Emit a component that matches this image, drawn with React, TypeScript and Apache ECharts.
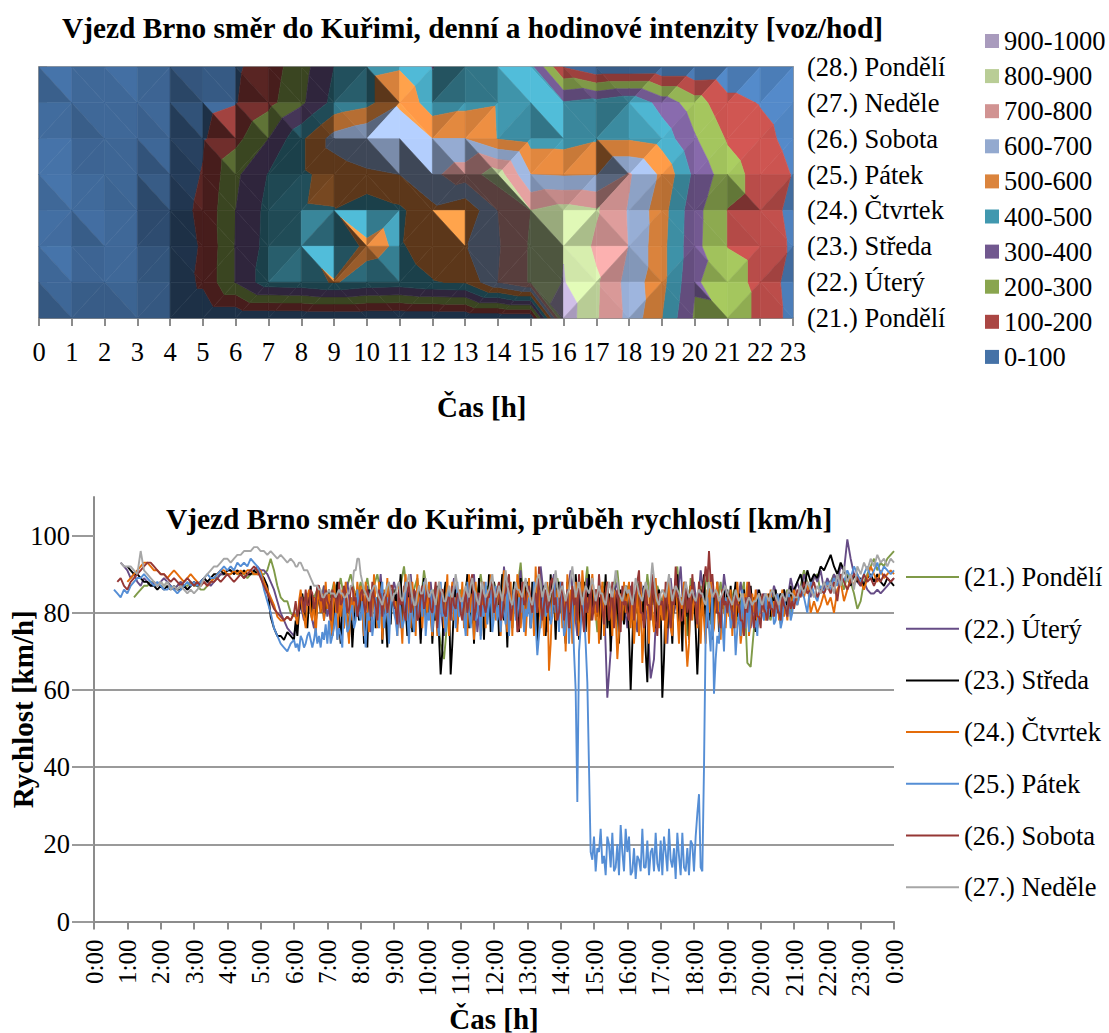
import React, { useEffect, useRef } from "react";
import * as echarts from "echarts";

const FONT = "Liberation Serif";
const hours = Array.from({ length: 24 }, (_, i) => i);
const dayLabels = ["(28.) Pondělí", "(27.) Neděle", "(26.) Sobota", "(25.) Pátek", "(24.) Čtvrtek", "(23.) Středa", "(22.) Úterý", "(21.) Pondělí"];
const bandNames = ["0-100", "100-200", "200-300", "300-400", "400-500", "500-600", "600-700", "700-800", "800-900", "900-1000"];
const bandColors = ["#4572A7", "#AA4643", "#89A54E", "#71588F", "#4198AF", "#DB843D", "#93A9CF", "#D19392", "#B9CD96", "#A99BBD"];

const row28 = [45, 25, 25, 20, 30, 60, 85, 150, 260, 400, 470, 490, 395, 470, 490, 430, 95, 5, 5, 8, 10, 20, 20, 20];
const row27 = [30, 25, 25, 25, 30, 70, 95, 170, 280, 430, 470, 590, 440, 470, 490, 480, 410, 440, 490, 360, 247, 130, 95, 55];
const row26 = [30, 18, 25, 25, 35, 90, 170, 300, 480, 640, 695, 640, 600, 600, 495, 460, 460, 490, 490, 460, 310, 190, 130, 70];
const row25 = [35, 20, 22, 22, 45, 105, 280, 405, 480, 540, 580, 600, 680, 750, 850, 600, 590, 595, 710, 580, 375, 245, 160, 95];
const row24 = [30, 25, 18, 20, 55, 120, 300, 430, 490, 495, 430, 480, 575, 520, 700, 800, 840, 810, 690, 540, 335, 197, 160, 70];
const row23 = [35, 15, 20, 20, 40, 110, 305, 435, 490, 430, 520, 490, 540, 590, 690, 810, 895, 780, 695, 530, 330, 197, 165, 85];
const row22 = [25, 15, 20, 15, 25, 120, 305, 460, 470, 506, 470, 460, 495, 510, 700, 810, 905, 815, 660, 530, 310, 255, 165, 60];
const row21 = [5, 5, 5, 5, 5, 5, 5, 5, 5, 5, 5, 5, 5, 5, 5, 5, 960, 810, 670, 500, 285, 290, 165, 70];
const intensity = [row28, row27, row26, row25, row24, row23, row22, row21];

const speedNames = ["(21.) Pondělí", "(22.) Úterý", "(23.) Středa", "(24.) Čtvrtek", "(25.) Pátek", "(26.) Sobota", "(27.) Neděle"];
const speedColors = ["#7F9A48", "#664C86", "#000000", "#E46C0A", "#558ED5", "#953735", "#A6A6A6"];

const speed21 = [
  84,85,86,87,87,88,88,87,88,
  87,88,87,86,87,88,87,87,88,87,
  87,86,86,87,88,89,89,90,90,90,
  90,91,90,90,90,89,90,90,91,90,
  90,91,94,91,87,84,83,83,80,79,
  80,83,84,82,85,84,86,83,87,85,
  84,88,85,89,84,87,90,86,84,88,
  85,89,83,87,90,85,81,88,84,86,
  83,87,92,84,80,86,89,82,91,85,
  82,86,79,72,68,78,84,88,81,86,
  84,89,80,77,85,90,83,87,79,88,
  85,82,91,84,78,88,86,93,81,85,
  80,87,84,91,76,85,88,82,89,84,
  78,86,90,83,77,88,84,92,80,85,
  75,84,88,81,74,86,91,82,78,87,
  83,74,88,85,79,90,82,76,87,84,
  81,88,78,85,92,80,86,74,89,83,
  79,87,84,91,77,85,82,88,80,84,
  82,86,78,84,88,67,66,76,83,80,
  84,80,78,85,82,77,83,86,79,84,
  83,87,91,88,86,89,90,85,87,88,
  88,90,87,89,86,90,88,85,81,83,
  88,90,92,94,91,93,92,94,95,96,
];
const speed22 = [
  93,92,91,
  89,90,88,87,89,88,87,88,87,88,
  89,88,87,86,87,88,87,86,87,88,
  87,88,89,88,87,88,89,90,90,91,
  91,90,91,90,89,90,90,91,92,91,
  91,90,88,86,83,80,78,76,75,74,
  79,82,78,85,80,76,84,81,87,79,
  83,78,86,74,84,88,80,85,79,86,
  82,87,75,85,81,90,78,86,83,88,
  84,76,87,81,90,79,85,73,86,82,
  88,78,85,81,74,86,83,89,77,84,
  79,86,82,90,75,84,87,80,88,83,
  86,77,92,82,79,87,84,91,76,85,
  81,88,78,92,84,75,86,90,80,83,
  77,85,91,82,74,87,83,89,79,84,
  86,78,84,58,70,85,88,79,83,76,
  87,81,75,88,84,78,63,68,86,80,
  85,72,89,80,84,92,77,86,81,88,
  80,91,84,76,88,82,86,79,90,83,
  78,85,82,88,80,84,76,83,86,81,
  85,79,82,87,84,80,86,83,89,85,
  88,85,90,87,84,90,88,91,86,89,
  87,90,88,92,91,99,94,90,88,87,
  88,86,85,85,86,85,86,87,88,89,
];

// Středa: head ends at 6:00 (6 min step), dense 6:03-21:00 (3 min step), tail 21:06-24:00 (6 min step)
const speed23Head = [
  92,
  91,90,90,89,88,88,87,87,86,87,
  86,87,86,87,86,86,87,86,87,88,
  87,88,89,88,89,90,90,91,90,91,
  91,90,91,90,91,90,90,91,90,90,
  89,87,79,76,74,74,73,75,74,73,
];
const speed23Dense = [
  78,74,80,83,85,81,79,76,83,87,80,84,77,82,87,80,85,78,83,81,
  86,79,74,81,84,88,78,72,83,76,86,80,73,84,71,79,85,83,78,86,
  84,72,80,71,86,78,83,87,76,84,80,88,72,85,79,71,84,77,86,81,
  86,76,84,90,78,85,81,74,88,80,75,86,83,78,87,72,84,89,79,85,
  80,86,72,81,78,87,74,64,70,85,88,79,83,64,72,82,86,78,85,80,
  86,78,84,90,76,83,88,72,85,80,89,77,84,73,86,81,90,75,84,88,
  80,86,74,85,90,78,83,71,87,82,76,88,80,85,75,89,82,78,86,88,
  83,76,88,80,85,72,89,79,84,87,74,83,78,90,80,85,73,86,88,80,
  84,78,72,88,82,76,86,79,90,84,73,85,80,88,75,83,90,78,86,80,
  86,79,84,73,87,81,90,76,85,70,83,88,78,85,72,86,81,77,87,84,
  75,60,72,85,80,88,74,84,78,87,70,62,78,85,82,88,76,84,86,82,
  58,68,84,76,88,80,72,86,82,90,76,84,70,88,79,85,73,87,82,85,
  76,64,75,86,82,90,76,84,78,87,73,85,80,88,75,84,81,86,78,86,
  80,87,76,84,88,79,85,74,83,86,80,85,76,87,81,84,75,83,86,84,
  84,80,83,81,85,79,84,82,86,80,84,85,81,86,80,84,82,87,83,86,
];
const speed23Tail = [
  88,90,86,91,88,90,89,92,91,93,
  95,92,90,93,91,89,87,90,88,89,
  87,89,90,88,90,88,87,89,88,87,
];

const speed24Head = [
  88,
  89,90,91,92,93,93,92,91,91,90,
  90,89,90,91,90,89,88,89,90,89,
  88,87,88,87,88,89,90,91,91,90,
  90,91,90,91,90,91,91,90,90,91,
  88,86,84,82,79,78,78,79,78,80,
];
const speed24Dense = [
  79,77,83,86,81,79,76,84,86,80,78,84,74,82,87,80,85,78,88,81,
  85,78,74,88,82,73,84,79,86,76,88,80,72,84,78,86,80,88,83,87,
  80,74,88,82,75,85,79,90,82,76,88,84,73,86,80,89,76,84,86,82,
  83,74,88,80,72,85,90,78,84,76,88,82,74,90,80,85,76,84,88,79,
  88,79,74,85,82,74,88,80,86,76,82,90,74,84,88,78,84,75,86,80,
  88,76,83,74,90,80,85,73,88,80,85,74,80,88,76,86,82,90,78,86,
  78,84,87,74,83,91,80,75,84,88,74,86,79,90,86,76,82,88,74,82,
  89,77,84,74,92,80,86,76,83,74,82,88,65,72,84,88,78,86,82,88,
  76,85,70,90,80,86,72,78,88,83,74,78,91,85,80,84,72,86,90,84,
  78,86,72,81,88,74,85,88,78,84,74,86,80,68,75,85,78,88,80,84,
  88,76,84,72,80,86,74,88,67,76,82,86,72,88,80,75,89,82,76,83,
  78,86,72,80,88,76,74,84,88,80,72,84,81,88,74,66,72,87,78,84,
  82,76,88,72,84,78,72,86,80,90,74,76,84,88,78,73,86,82,76,84,
  79,86,74,84,76,88,80,72,76,85,82,88,74,78,85,80,86,76,78,84,
  84,80,78,85,81,86,79,83,80,85,78,82,86,79,82,78,85,81,84,86,
];
const speed24Tail = [
  82,86,84,88,80,83,80,82,85,82,
  84,80,86,88,83,86,89,87,90,88,
  86,89,92,90,88,91,89,90,91,90,
];

const speed25Head = [
  86,85,84,86,85,
  87,88,89,89,90,89,88,87,88,87,
  86,86,87,86,85,86,87,88,87,88,
  87,88,89,90,89,89,90,91,92,91,
  92,91,93,92,93,92,94,93,92,90,
  86,83,80,76,74,72,71,70,72,73,
];
const speed25Dense = [
  71,72,70,74,73,71,72,74,75,73,71,73,76,72,74,71,75,73,77,72,
  78,72,74,76,80,73,76,74,71,84,79,75,76,80,82,76,78,86,80,78,
  83,77,71,80,78,86,74,78,84,79,76,85,88,76,80,84,72,82,86,80,
  78,74,86,80,76,78,88,80,72,84,79,75,85,78,82,84,79,88,74,80,
  78,86,75,80,83,78,74,88,79,81,75,79,86,78,81,84,76,88,79,80,
  84,79,74,88,80,76,82,86,78,80,85,73,82,79,88,77,82,86,75,79,
  87,78,82,75,84,80,77,88,74,81,82,86,78,79,84,80,88,75,81,79,
  84,76,80,88,77,69,74,78,82,86,79,81,84,77,79,88,80,84,75,88,
  82,74,76,86,72,80,84,70,60,31,70,76,84,80,72,62,40,18,16,22,
  13,19,18,24,15,17,12,22,20,14,23,13,14,20,12,25,18,13,24,18,
  22,12,13,19,11,17,16,13,24,14,14,21,12,18,19,13,23,15,13,21,
  12,22,18,13,24,16,14,19,11,23,17,12,23,14,13,19,12,21,20,13,
  22,28,33,14,13,40,75,84,76,70,86,59,68,74,72,84,78,70,84,80,
  84,76,78,80,69,76,80,74,86,78,76,84,75,84,80,76,78,74,85,80,
  80,78,85,78,80,84,82,77,78,85,83,76,78,84,81,79,85,78,80,84,
];
const speed25Tail = [
  82,86,84,80,88,85,83,87,85,88,
  86,89,87,90,88,91,89,92,90,88,
  90,92,89,91,93,90,92,91,90,91,
];

const speed26Head = [
  88,89,87,86,
  88,89,90,91,92,93,93,92,91,90,
  90,89,88,89,88,87,88,89,88,87,
  88,87,88,87,88,88,89,88,89,90,
  89,88,89,90,89,90,91,92,91,89,
  87,85,83,81,80,79,78,79,78,80,
];
const speed26Dense = [
  83,79,81,84,84,80,86,82,82,86,85,81,83,87,87,83,84,80,86,83,
  82,78,86,84,84,80,88,82,83,87,85,80,81,86,87,83,84,79,82,85,
  86,82,80,86,84,79,88,84,82,78,86,84,79,85,85,80,83,87,87,82,
  81,77,86,82,84,80,78,85,88,80,82,86,85,78,79,84,87,81,83,86,
  85,81,80,84,88,76,82,86,86,80,79,84,84,78,87,82,81,85,85,80,
  78,82,86,80,83,88,90,78,81,85,85,79,88,82,80,84,84,88,87,80,
  82,86,88,78,79,84,85,88,90,78,81,85,86,75,76,83,88,82,83,86,
  87,83,80,85,85,80,92,84,78,82,86,80,82,88,89,82,84,78,80,85,
  88,78,82,86,76,80,87,82,84,78,90,84,80,75,86,80,83,87,78,82,
  86,80,90,84,81,77,85,88,78,82,88,76,84,86,80,75,87,82,83,80,
  78,84,88,78,84,88,91,80,80,76,86,82,82,78,90,84,78,74,85,82,
  83,78,88,82,80,76,86,82,92,84,84,78,78,82,88,80,84,78,90,84,
  82,77,88,84,85,88,92,88,96,88,90,84,85,80,80,76,86,82,83,80,
  85,82,80,76,86,82,82,78,78,74,84,80,88,84,80,76,83,79,79,76,
  85,81,80,78,83,81,81,79,84,81,80,78,85,82,81,79,84,81,83,81,
];
const speed26Tail = [
  86,84,88,85,86,88,84,86,85,87,
  85,88,83,90,88,86,88,90,89,87,
  90,88,89,87,89,88,90,89,88,89,
];

const speed27Head = [
  93,92,92,
  92,91,90,96,91,90,89,88,87,88,
  87,88,86,87,86,87,86,85,86,85,
  86,87,89,90,91,92,92,93,94,94,
  93,94,95,95,96,96,96,97,97,96,
  96,95,96,95,94,95,94,93,94,93,
];
const speed27Dense = [
  92,92,93,93,92,91,91,91,90,89,88,87,87,87,86,86,84,84,85,85,
  86,85,85,85,84,85,86,85,85,84,84,85,85,87,87,91,91,94,94,90,
  88,86,85,84,83,85,86,87,87,85,84,83,82,84,85,87,88,85,83,85,
  85,87,88,84,83,85,86,88,90,87,84,82,82,85,87,85,85,87,89,86,
  84,85,86,84,82,85,88,86,85,83,83,85,87,85,84,87,90,87,85,83,
  83,85,87,85,84,87,89,86,85,83,82,85,88,85,84,85,86,88,90,86,
  84,85,87,85,83,87,91,87,85,83,82,85,88,86,86,85,84,87,89,86,
  85,83,82,85,87,89,90,87,84,86,88,85,83,85,86,88,91,87,84,86,
  87,85,83,85,86,89,92,88,84,86,88,85,82,85,87,86,85,87,89,86,
  83,85,87,85,85,83,82,85,88,86,84,87,91,88,85,84,83,85,87,85,
  86,84,82,85,89,87,85,84,83,86,88,86,84,88,93,89,85,83,82,85,
  86,85,84,87,90,86,83,85,87,86,85,83,82,85,88,86,84,85,86,84,
  83,85,86,85,85,83,82,85,88,86,84,85,86,85,83,84,85,86,87,85,
  84,83,82,84,86,84,83,84,85,83,81,83,84,83,82,83,83,84,85,83,
  82,84,85,84,83,85,86,85,84,83,82,84,85,84,83,85,86,85,85,84,
];
const speed27Tail = [
  84,87,85,88,86,84,87,85,88,86,
  88,85,90,87,92,88,90,86,92,90,
  93,91,94,92,95,93,94,92,94,93,
];

const coarse = (vals: number[]) => vals.map((v, k) => [24 - 0.1 * (vals.length - 1 - k), v]);
const mixed = (head: number[], dense: number[], tail: number[]) => [
  ...head.map((v, k) => [6 - 0.1 * (head.length - 1 - k), v]),
  ...dense.map((v, k) => [6 + 0.05 * (k + 1), v]),
  ...tail.map((v, k) => [21 + 0.1 * (k + 1), v]),
];
const speedSeries = [
  coarse(speed21),
  coarse(speed22),
  mixed(speed23Head, speed23Dense, speed23Tail),
  mixed(speed24Head, speed24Dense, speed24Tail),
  mixed(speed25Head, speed25Dense, speed25Tail),
  mixed(speed26Head, speed26Dense, speed26Tail),
  mixed(speed27Head, speed27Dense, speed27Tail),
];

type V = [number, number, number];
type Poly = { pts: V[]; shade: number };

function clip(poly: V[], level: number, keepAbove: boolean): V[] {
  const out: V[] = [];
  for (let i = 0; i < poly.length; i++) {
    const a = poly[i];
    const b = poly[(i + 1) % poly.length];
    const ina = keepAbove ? a[2] >= level : a[2] <= level;
    const inb = keepAbove ? b[2] >= level : b[2] <= level;
    if (ina) out.push(a);
    if (ina !== inb) {
      const t = (level - a[2]) / (b[2] - a[2]);
      out.push([a[0] + t * (b[0] - a[0]), a[1] + t * (b[1] - a[1]), level]);
    }
  }
  return out;
}

function facetShade(a: V, b: V, c: V): number {
  // plane gradient in units of 100 vehicles per grid cell
  const ux = b[0] - a[0], uy = b[1] - a[1], uz = b[2] - a[2];
  const vx = c[0] - a[0], vy = c[1] - a[1], vz = c[2] - a[2];
  const det = ux * vy - uy * vx;
  const gx = ((uz * vy - uy * vz) / det) / 100;
  const gy = ((ux * vz - uz * vx) / det) / 100;
  const k = 1.1;
  const nx = -k * gx, ny = -k * gy, nz = 1;
  const len = Math.hypot(nx, ny, nz);
  const dot = (nx * 0.5 + ny * -0.5 + nz * 0.707) / len;
  return Math.max(0.42, 0.1 + 1.15 * dot);
}

function shadeColor(hex: string, f: number): string {
  const n = parseInt(hex.slice(1), 16);
  const ch = (v: number) => Math.min(255, Math.round(v * f));
  return `rgb(${ch((n >> 16) & 255)},${ch((n >> 8) & 255)},${ch(n & 255)})`;
}

function buildBands(): Poly[][] {
  const bands: Poly[][] = bandNames.map(() => []);
  for (let r = 0; r < intensity.length - 1; r++) {
    for (let h = 0; h < hours.length - 1; h++) {
      const tl: V = [h, r, intensity[r][h]];
      const tr: V = [h + 1, r, intensity[r][h + 1]];
      const bl: V = [h, r + 1, intensity[r + 1][h]];
      const br: V = [h + 1, r + 1, intensity[r + 1][h + 1]];
      const tris: V[][] = tl[2] + br[2] >= tr[2] + bl[2] ? [[tl, tr, br], [tl, br, bl]] : [[tl, tr, bl], [tr, br, bl]];
      for (const t of tris) {
        const shade = facetShade(t[0], t[1], t[2]);
        bands.forEach((list, b) => {
          const p = clip(clip(t, b * 100, true), (b + 1) * 100, false);
          if (p.length >= 3) list.push({ pts: p, shade });
        });
      }
    }
  }
  return bands;
}

const label = { fontFamily: FONT, fontSize: 26.5, color: "#000" };
const bold = { fontFamily: FONT, fontSize: 29, fontWeight: "bold", color: "#000" };
const titleStyle = { ...bold, fontSize: 29.35 };
const lineGray = "#8C8C8C";

export default function App() {
  const ref = useRef<HTMLDivElement>(null);
  useEffect(() => {
    const chart = echarts.init(ref.current!, undefined, { renderer: "svg" });
    const bands = buildBands();
    const surface = bands.map((list, b) => ({
      type: "custom",
      name: bandNames[b],
      xAxisIndex: 0,
      yAxisIndex: 0,
      silent: true,
      progressive: 0,
      itemStyle: { color: bandColors[b] },
      data: list.map((p) => [p.pts[0][0], p.pts[0][1]]),
      renderItem: (params: any, api: any) => {
        const p = list[params.dataIndex];
        const fill = shadeColor(bandColors[b], p.shade);
        return {
          type: "polygon",
          shape: { points: p.pts.map((q) => api.coord([q[0], q[1]])) },
          style: { fill, stroke: fill, lineWidth: 0.6 },
        };
      },
    }));
    const lines = speedSeries.map((pairs, i) => ({
      type: "line",
      name: speedNames[i],
      xAxisIndex: 1,
      yAxisIndex: 1,
      showSymbol: false,
      symbol: "none",
      silent: true,
      lineStyle: { color: speedColors[i], width: 1.9 },
      itemStyle: { color: speedColors[i] },
      data: pairs,
    }));
    chart.setOption({
      animation: false,
      backgroundColor: "#fff",
      title: [
        { text: "Vjezd Brno směr do Kuřimi, denní a hodinové intenzity [voz/hod]", left: 62, top: 13, padding: 0, textStyle: titleStyle },
        { text: "Čas [h]", left: 437, top: 392, padding: 0, textStyle: bold },
        { text: "Vjezd Brno směr do Kuřimi, průběh rychlostí [km/h]", left: 166, top: 504, padding: 0, textStyle: titleStyle },
      ],
      legend: [
        {
          data: [...bandNames].reverse(),
          orient: "vertical",
          left: 985,
          top: 26,
          padding: 0,
          icon: "rect",
          itemWidth: 14,
          itemHeight: 14,
          itemGap: 5.1,
          selectedMode: false,
          textStyle: { ...label, lineHeight: 30 },
        },
        {
          data: speedNames,
          orient: "vertical",
          left: 906,
          top: 562,
          padding: 0,
          icon: "rect",
          itemWidth: 53,
          itemHeight: 2,
          itemGap: 21.7,
          selectedMode: false,
          textStyle: { ...label, lineHeight: 30 },
        },
      ],
      grid: [
        { left: 39, top: 67, width: 754, height: 251, outerBoundsMode: "none", show: true, borderColor: "#A0A0A0", borderWidth: 2, backgroundColor: "transparent" },
        { left: 94, top: 497, width: 800, height: 424.5, outerBoundsMode: "none" },
      ],
      xAxis: [
        {
          type: "value",
          gridIndex: 0,
          min: 0,
          max: 23,
          interval: 1,
          axisLine: { show: true, onZero: false, lineStyle: { color: lineGray, width: 2 } },
          axisTick: { show: true, length: 8, lineStyle: { color: lineGray, width: 2 } },
          axisLabel: { ...label, margin: 20, hideOverlap: false },
          splitLine: { show: false },
        },
        {
          type: "value",
          gridIndex: 1,
          min: 0,
          max: 24,
          interval: 1,
          name: "Čas [h]",
          nameLocation: "middle",
          nameMoveOverlap: false,
          nameGap: 84,
          nameTextStyle: { ...bold, lineHeight: 26 },
          axisLine: { show: true, lineStyle: { color: lineGray, width: 2 } },
          axisTick: { show: true, length: 8, lineStyle: { color: lineGray, width: 2 } },
          axisLabel: { ...label, fontSize: 25, rotate: 90, margin: 18, hideOverlap: false, formatter: (v: number) => `${v % 24}:00` },
          splitLine: { show: false },
        },
      ],
      yAxis: [
        {
          type: "value",
          gridIndex: 0,
          position: "right",
          inverse: true,
          min: 0,
          max: 7,
          interval: 1,
          axisLine: { show: false },
          axisTick: { show: true, length: 8, lineStyle: { color: lineGray, width: 2 } },
          axisLabel: { ...label, margin: 14, hideOverlap: false, formatter: (v: number) => dayLabels[v] },
          splitLine: { show: false },
        },
        {
          type: "value",
          gridIndex: 1,
          min: 0,
          max: 110,
          interval: 20,
          name: "Rychlost [km/h]",
          nameLocation: "middle",
          nameMoveOverlap: false,
          nameGap: 56,
          nameRotate: 90,
          nameTextStyle: { ...bold, lineHeight: 30 },
          axisLine: { show: true, onZero: false, lineStyle: { color: lineGray, width: 2 } },
          axisTick: { show: true, length: 22, customValues: [0, 20, 40, 60, 80, 100], lineStyle: { color: "#9A9A9A", width: 2 } },
          axisLabel: { ...label, margin: 24, hideOverlap: false, customValues: [0, 20, 40, 60, 80, 100] },
          splitLine: { show: true, showMaxLine: false, lineStyle: { color: "#9A9A9A", width: 2 } },
        },
      ],
      series: [...surface, ...lines],
    });
    return () => chart.dispose();
  }, []);
  return <div ref={ref} style={{ position: "absolute", left: 0, top: 0, width: 1109, height: 1033 }} />;
}
